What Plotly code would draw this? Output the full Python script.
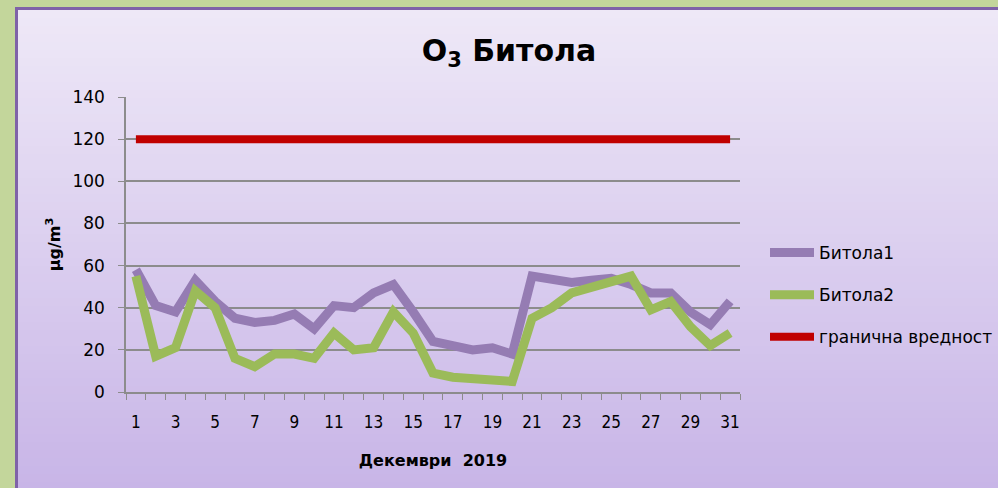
import plotly.graph_objects as go

days = list(range(1, 32))
bitola1 = [58, 41, 38, 53, 43, 35, 33, 34, 37, 30, 41, 40, 47, 51, 38, 24,
           22, 20, 21, 18, 55, 53, 52, 53, 54, 51, 47, 47, 38, 32, 43]
bitola2 = [55, 17, 21, 48, 40, 16, 12, 18, 18, 16, 28, 20, 21, 38, 28, 9,
           7, 6, 5, 5, 35, 40, 47, 50, 52, 55, 39, 43, 31, 22, 28]
limit = [120] * 31
x_tick_vals = list(range(1, 32, 2))
x_tick_text = [str(v) for v in x_tick_vals]
y_tick_vals = list(range(0, 141, 20))

FONT = "Comic Sans MS, DejaVu Sans, sans-serif"
NARROW = "Comic Sans MS, Liberation Sans Narrow, DejaVu Sans Condensed, Roboto Condensed, DejaVu Sans, sans-serif"
W, H = 998, 488
L, R, T, B = 126, 258, 97, 96
pw, ph = W - L - R, H - T - B

def px(x):
    return (x - L) / pw

def py(y):
    return (H - B - y) / ph

fig = go.Figure()
fig.add_trace(go.Scatter(x=days, y=bitola1, name="Битола1", mode="lines",
                         line=dict(color="#957cb3", width=9), legendgroup="a"))
fig.add_trace(go.Scatter(x=days, y=bitola2, name="Битола2", mode="lines",
                         line=dict(color="#9bbb59", width=9), legendgroup="b"))
fig.add_trace(go.Scatter(x=days, y=limit, name="гранична вредност", mode="lines",
                         line=dict(color="#c00000", width=8), legendgroup="c"))

shapes = []
x0, x1, y0, y1 = 15, 1000, 7, 490
shapes.append(dict(type="rect", xref="paper", yref="paper", x0=px(x0), x1=px(x1),
                   y0=py(y1), y1=py(y0), fillcolor="#7f62a8", line=dict(width=0), layer="below"))
top = (0xee, 0xe8, 0xf7)
bot = (0xc8, 0xb5, 0xe7)
n = 60
ya, yb = y0 + 3, y1
for i in range(n):
    t = i / (n - 1)
    c = tuple(round(top[k] + (bot[k] - top[k]) * t) for k in range(3))
    s0 = ya + (yb - ya) * i / n
    s1 = ya + (yb - ya) * (i + 1) / n + 0.6
    shapes.append(dict(type="rect", xref="paper", yref="paper", x0=px(x0 + 3), x1=px(x1),
                       y0=py(s1), y1=py(s0), fillcolor="rgb(%d,%d,%d)" % c,
                       line=dict(width=0), layer="below"))
fig.update_layout(shapes=shapes)

fig.update_layout(
    width=W, height=H,
    margin=dict(l=L, r=R, t=T, b=B, autoexpand=False),
    paper_bgcolor="#c3d69b",
    plot_bgcolor="rgba(0,0,0,0)",
    font=dict(family=FONT, color="black", size=16),
    title=dict(text="<b>O<sub>3</sub> Битола</b>", x=0.51, xanchor="center",
               y=1 - 50 / H, yanchor="middle", font=dict(size=30, family=FONT)),
    showlegend=True,
    legend=dict(x=px(765), y=py(235), xanchor="left", yanchor="top",
                bgcolor="rgba(0,0,0,0)", font=dict(size=17, family=FONT),
                tracegroupgap=17, itemwidth=44),
    xaxis=dict(range=[0.5, 31.5], tickvals=x_tick_vals, ticktext=x_tick_text,
               ticks="", showgrid=False, zeroline=False, showline=True,
               linecolor="#8c8c8c", linewidth=1.5, ticklabelstandoff=14,
               tickfont=dict(size=17, family=NARROW), automargin=False,
               minor=dict(tickvals=[d + 0.5 for d in range(0, 32)], ticks="outside",
                          ticklen=6, tickcolor="#8c8c8c", showgrid=False),
               title=dict(text="<b>Декември  2019</b>", font=dict(size=16, family=FONT),
                          standoff=24)),
    yaxis=dict(range=[0, 140], tickvals=y_tick_vals, ticks="outside", ticklen=6,
               tickcolor="#8c8c8c", showgrid=True, gridcolor="#8c8c8c", gridwidth=1.5,
               zeroline=False, showline=True, linecolor="#8c8c8c", linewidth=1.5,
               tickfont=dict(size=17, family=FONT), ticklabelstandoff=10, automargin=False,
               title=dict(text="<b>µg/m<sup>3</sup></b>", font=dict(size=16, family=FONT),
                          standoff=8)),
)

fig.write_html("out.html", config={"displayModeBar": False},
               post_script="document.body.style.margin='0px';document.body.style.overflow='hidden';")
